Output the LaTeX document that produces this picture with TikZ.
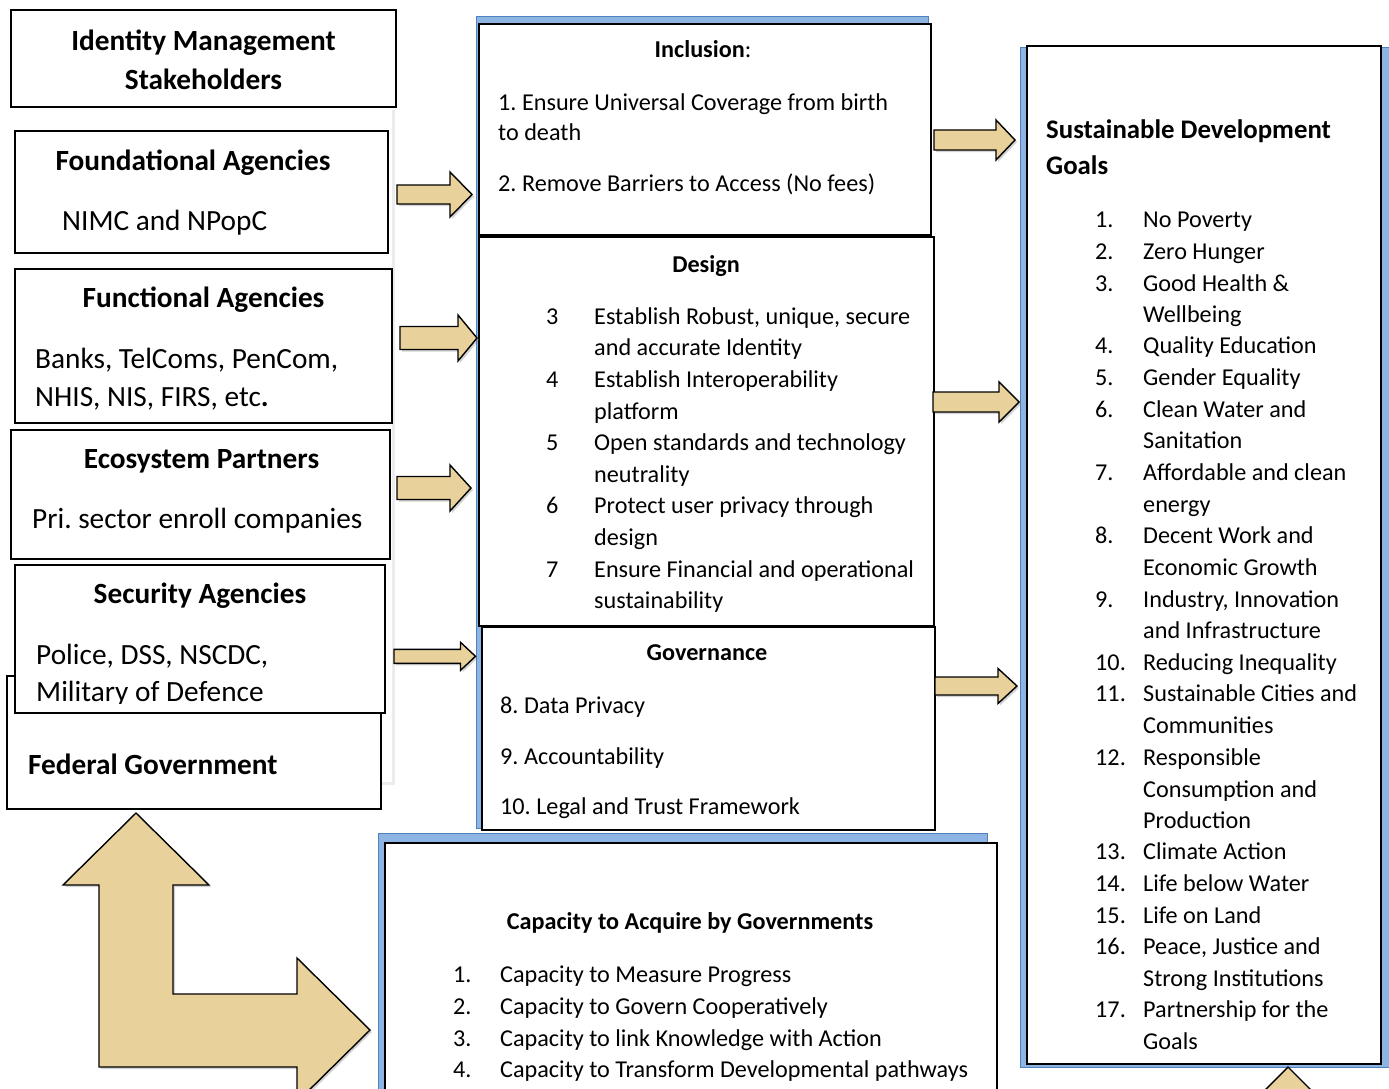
\documentclass[tikz,border=0pt]{standalone}
\usepackage{fontspec}
\setmainfont{Carlito}
\usetikzlibrary{shadows}
\definecolor{panelfill}{RGB}{141,180,227}
\definecolor{paneledge}{RGB}{79,129,189}
\definecolor{arrowfill}{RGB}{233,209,155}
\newcommand\fmid{\fontsize{24.2}{29}\selectfont}
\newcommand\fbig{\fontsize{29.3}{39}\selectfont}
\newcommand\fgoal{\fontsize{26.8}{35}\selectfont}
% block arrow: start x, tip x, centre y, shaft half width, head half width, head length
\newcommand\blkarrow[6]{%
  \draw[blk] (#1,#3-#4) -- (#2-#6,#3-#4) -- (#2-#6,#3-#5) -- (#2,#3)
    -- (#2-#6,#3+#5) -- (#2-#6,#3+#4) -- (#1,#3+#4) -- cycle;}
\frenchspacing
\begin{document}
\begin{tikzpicture}[x=1pt,y=-1pt,
  box/.style={draw=black, fill=white, line width=1.3pt, inner sep=0pt},
  panel/.style={draw=paneledge, fill=panelfill, line width=1pt, inner sep=0pt},
  blk/.style={draw=black, fill=arrowfill, line width=1.4pt, line join=miter,
    drop shadow={shadow xshift=2pt, shadow yshift=-2pt, opacity=0.35}},
  lbl/.style={anchor=base west, inner sep=0pt, font=\fmid},
  lblc/.style={anchor=base, inner sep=0pt},
  lbig/.style={anchor=base west, inner sep=0pt, font=\fbig},
  tbig/.style={anchor=base, inner sep=0pt, font=\fbig\bfseries},
]
\clip (0,0) rectangle (1389,1089);

% ---------- stakeholders column ----------
\node[fill=white, inner sep=0pt, minimum width=380pt, minimum height=675pt,
  drop shadow={shadow xshift=3pt, shadow yshift=-3pt, opacity=0.15}] (leftpanel) at (202,444.5) {};
\node[box, minimum width=385pt, minimum height=97pt] (idm) at (203.5,58.5) {};
\node[font=\fbig\bfseries, align=center, inner sep=0pt] (idmt) at (203.5,60) {Identity Management\\Stakeholders};

\node[box, minimum width=373pt, minimum height=122pt] (found) at (201.5,192) {};
\node[tbig] (foundt) at (193,170.5) {Foundational Agencies};
\node[lbig] (foundl) at (62,230.5) {NIMC and NPopC};

\node[box, minimum width=377pt, minimum height=154pt] (func) at (203.5,346) {};
\node[tbig] (funct) at (203.5,307.5) {Functional Agencies};
\node[lbig] (funcl1) at (35,368.5) {Banks, TelComs, PenCom,};
\node[lbig] (funcl2) at (35,406.5) {NHIS, NIS, FIRS, etc\textbf{.}};

\node[box, minimum width=379pt, minimum height=129pt] (eco) at (200.5,494.5) {};
\node[tbig] (ecot) at (201.5,468.5) {Ecosystem Partners};
\node[lbig] (ecol) at (32,528.5) {Pri. sector enroll companies};

\node[box, minimum width=374pt, minimum height=133pt] (fed) at (194,742.5) {};
\node[anchor=base west, inner sep=0pt, font=\fbig\bfseries] (fedt) at (28,774.5) {Federal Government};

\node[box, minimum width=370pt, minimum height=148pt] (sec) at (200,639) {};
\node[tbig] (sect) at (200,603.5) {Security Agencies};
\node[lbig] (secl1) at (36,664.5) {Police, DSS, NSCDC,};
\begin{scope}
  \clip (15,565) rectangle (385,703);
  \node[lbig] (secl2) at (36,701.5) {Military of Defence};
\end{scope}

% ---------- principles column ----------
\node[panel, minimum width=452pt, minimum height=811pt] (midpanel) at (702,422.5) {};

\node[box, minimum width=452pt, minimum height=211pt] (incl) at (705,129.5) {};
\node[lblc, font=\fmid] (inclt) at (703,58) {\textbf{Inclusion}:};
\node[lbl] (incl1) at (498,111) {1. Ensure Universal Coverage from birth};
\node[lbl] (incl2) at (498,140) {to death};
\node[lbl] (incl3) at (498,191) {2. Remove Barriers to Access (No fees)};

\node[box, minimum width=455pt, minimum height=389pt] (design) at (706.5,431.5) {};
\node[lblc, font=\fmid\bfseries] (designt) at (706,272) {Design};
\foreach \yy/\nn/\tx in {316/3/{Establish Robust, unique, secure}, 347//{and accurate Identity},
    379/4/{Establish Interoperability}, 411//{platform},
    442/5/{Open standards and technology}, 474//{neutrality},
    505/6/{Protect user privacy through}, 537//{design},
    569/7/{Ensure Financial and operational}, 600//{sustainability}}{
  \node[lbl] (dn\yy) at (546,\yy+8) {\nn};
  \node[lbl] (dt\yy) at (594,\yy+8) {\tx};
}

\node[box, minimum width=453pt, minimum height=203pt] (gov) at (708.5,728.5) {};
\node[lblc, font=\fmid\bfseries] (govt) at (707,660) {Governance};
\node[lbl] (gov1) at (500,713) {8. Data Privacy};
\node[lbl] (gov2) at (500,764) {9. Accountability};
\node[lbl] (gov3) at (500,814) {10. Legal and Trust Framework};

% ---------- capacity box ----------
\node[panel, minimum width=609pt, minimum height=270pt] (cappanel) at (682.5,968) {};
\node[box, minimum width=612pt, minimum height=270pt] (cap) at (691,978) {};
\node[lblc, font=\fmid\bfseries] (capt) at (690,929) {Capacity to Acquire by Governments};
\foreach \yy/\nn/\tx in {974/1./{Capacity to Measure Progress}, 1006/2./{Capacity to Govern Cooperatively},
    1038/3./{Capacity to link Knowledge with Action}, 1069/4./{Capacity to Transform Developmental pathways}}{
  \node[lbl] (cn\yy) at (453,\yy+8) {\nn};
  \node[lbl] (ct\yy) at (500,\yy+8) {\tx};
}

% ---------- goals box ----------
\node[panel, minimum width=369pt, minimum height=1019pt] (sdgpanel) at (1204.5,557.5) {};
\node[box, minimum width=354pt, minimum height=1018pt] (sdg) at (1204,555) {};
\node[anchor=base west, inner sep=0pt, font=\fgoal\bfseries] (sdgt1) at (1046,139) {Sustainable Development};
\node[anchor=base west, inner sep=0pt, font=\fgoal\bfseries] (sdgt2) at (1046,174) {Goals};
\foreach \yy/\nn/\tx in {219/1./{No Poverty}, 251/2./{Zero Hunger}, 283/3./{Good Health \&}, 314//{Wellbeing},
    345/4./{Quality Education}, 377/5./{Gender Equality}, 409/6./{Clean Water and}, 440//{Sanitation},
    472/7./{Affordable and clean}, 504//{energy}, 535/8./{Decent Work and}, 567//{Economic Growth},
    599/9./{Industry, Innovation}, 630//{and Infrastructure}, 662/10./{Reducing Inequality},
    693/11./{Sustainable Cities and}, 725//{Communities}, 757/12./{Responsible}, 789//{Consumption and},
    820//{Production}, 851/13./{Climate Action}, 883/14./{Life below Water}, 915/15./{Life on Land},
    946/16./{Peace, Justice and}, 978//{Strong Institutions}, 1009/17./{Partnership for the}, 1041//{Goals}}{
  \node[lbl] (sn\yy) at (1095,\yy+8) {\nn};
  \node[lbl] (st\yy) at (1143,\yy+8) {\tx};
}

% ---------- block arrows ----------
\blkarrow{397}{472}{194.5}{9.5}{22.5}{22}
\blkarrow{400}{477}{338}{11.5}{23}{19}
\blkarrow{397}{471}{488}{11.5}{23}{21}
\blkarrow{394}{475.5}{656.3}{7}{14}{15}
\blkarrow{934}{1015}{140}{10}{20}{19}
\blkarrow{933}{1019}{402}{10}{20}{20}
\blkarrow{935}{1017}{686}{9}{17.5}{19}

% L-shaped double arrow
\draw[blk] (136,813) -- (209,885) -- (173,885) -- (173,994) -- (297,994) -- (297,958)
  -- (370,1030) -- (297,1102) -- (297,1067) -- (99,1067) -- (99,885) -- (63,885) -- cycle;
% upward arrow head at the lower edge
\draw[blk] (1288,1067) -- (1330,1109) -- (1246,1109) -- cycle;
\end{tikzpicture}
\end{document}
